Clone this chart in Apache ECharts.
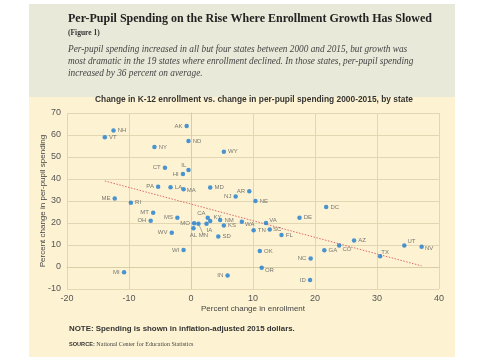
<!DOCTYPE html>
<html><head><meta charset="utf-8">
<script src="https://cdn.jsdelivr.net/npm/echarts@6/dist/echarts.min.js"></script>
<style>html,body{margin:0;padding:0;background:#fff}#c{width:485px;height:360px}</style>
</head><body><div id="c"></div>
<script>
const states = ['NH','VT','AK','ND','NY','CT','IL','HI','PA','LA','MA','ME','WY','MD','AR','NJ','RI','MT','OH','MS','WV','WI','MI','MO','AL','NE','CA','KY','MN','IA','NM','KS','SD','WA','VA','TN','SC','FL','OK','OR','IN','DC','DE','AZ','CO','GA','NC','ID','TX','UT','NV'];
const enrollChange = [-12.5,-13.9,-0.7,-0.4,-5.9,-4.2,-0.4,-1.3,-5.3,-3.3,-1.2,-12.3,5.3,3.1,9.4,7.2,-9.7,-6.1,-6.5,-2.2,-3.1,-1.2,-10.8,0.5,0.4,10.4,2.7,3.1,1.2,2.5,4.7,5.3,4.4,8.2,12.1,10.1,12.7,14.6,11.1,11.4,5.9,21.8,17.5,26.3,23.9,21.5,19.3,19.2,30.5,34.4,37.2];
const spendChange = [62.0,59.0,64.1,57.3,54.5,45.1,44.1,42.3,36.5,36.2,35.3,31.1,52.4,36.1,34.4,32.0,29.2,24.7,21.0,22.4,15.6,7.7,-2.4,19.9,17.6,30.0,22.4,20.9,19.7,19.7,21.4,18.9,13.9,20.6,20.0,16.7,17.1,14.5,7.3,-0.3,-3.9,27.3,22.4,12.0,9.8,7.6,3.9,-5.9,4.9,9.8,9.2];
const labelPos = {AK:'left',CT:'left',HI:'left',PA:'left',ME:'left',MT:'left',OH:'left',MS:'left',WV:'left',WI:'left',MI:'left',MO:'left',AR:'left',NJ:'left',IN:'left',NC:'left',ID:'left',AL:'bottom'};
const trendX = [-13.9, 37.2];
const trendY = [39.1, 0.5];
const xTicks = [-20,-10,0,10,20,30,40];
const yTicks = [-10,0,10,20,30,40,50,60,70];

const labelOffsets = {
  IL:{position:'left',offset:[2,-5]},
  CA:{position:'left',offset:[2,-4]},
  KY:{position:'right',offset:[-1,-4]},
  IA:{position:'bottom',offset:[3,-1]},
  MN:{position:'bottom',offset:[5,4]},
  WA:{position:'right',offset:[-1,3]},
  VA:{position:'right',offset:[-1,-3]},
  CO:{position:'right',offset:[-1,4]},
  TX:{position:'right',offset:[-3,-4]},
  UT:{position:'right',offset:[-1,-4]},
  NV:{position:'right',offset:[-1,2]},
  OR:{position:'right',offset:[-1,3]},
  MA:{position:'right',offset:[-1,1]},
  SC:{position:'right',offset:[-1,0]}
};
const pts = states.map((s,i)=>{
  const item = {value:[enrollChange[i], spendChange[i], s]};
  if (labelOffsets[s]) item.label = Object.assign({}, labelOffsets[s]);
  else if (labelPos[s]) item.label = {position: labelPos[s]};
  if (s==='MN') item.labelLine = {show:true, lineStyle:{color:'#777',width:0.6}};
  return item;
});

const sans = 'Liberation Sans, Arial, sans-serif';
const serif = 'Liberation Serif, Times New Roman, serif';
const chart = echarts.init(document.getElementById('c'), null, {renderer:'canvas'});
chart.setOption({
  animation:false,
  backgroundColor:'#ffffff',
  graphic:[
    {type:'rect', z:-10, shape:{x:29,y:4,width:426,height:93}, style:{fill:'#e8e9d8'}},
    {type:'rect', z:-10, shape:{x:29,y:97,width:426,height:260}, style:{fill:'#fdf3d3'}},
    {type:'text', left:68, top:13, style:{text:'Per-Pupil Spending on the Rise Where Enrollment Growth Has Slowed', font:'bold 12px '+serif, fill:'#222'}},
    {type:'text', left:68, top:29, style:{text:'(Figure 1)', font:'bold 7.5px '+serif, fill:'#333'}},
    {type:'text', left:68, top:44, style:{text:'Per-pupil spending increased in all but four states between 2000 and 2015, but growth was\nmost dramatic in the 19 states where enrollment declined. In those states, per-pupil spending\nincreased by 36 percent on average.', font:'italic 9.3px '+serif, fill:'#444', lineHeight:11.7}},
    {type:'text', left:95, top:96, style:{text:'Change in K-12 enrollment vs. change in per-pupil spending 2000-2015, by state', font:'bold 8.4px '+sans, fill:'#333'}},
    {type:'text', left:69, top:325, style:{text:'NOTE: Spending is shown in inflation-adjusted 2015 dollars.', font:'bold 7.9px '+sans, fill:'#333'}},
    {type:'text', left:69, top:341, style:{rich:{a:{font:'bold 5.6px '+sans, fill:'#333'},b:{font:'6.1px '+serif, fill:'#444'}}, text:'{a|SOURCE: }{b|National Center for Education Statistics}'}}
  ],
  grid:{left:67, right:46, top:113, bottom:71},
  xAxis:{type:'value', min:-20, max:40, interval:10,
    name:'Percent change in enrollment', nameLocation:'middle', nameGap:16, nameMoveOverlap:false,
    nameTextStyle:{fontFamily:sans, fontSize:8, color:'#444'},
    axisLine:{show:true, lineStyle:{color:'#d8cda5'}}, axisTick:{show:false},
    axisLabel:{fontFamily:sans, fontSize:9, color:'#555', margin:5, formatter:v=>xTicks.includes(v)?String(v):''},
    splitLine:{lineStyle:{color:'#e2d7b2'}}},
  yAxis:{type:'value', min:-10, max:70, interval:10,
    name:'Percent change in per-pupil spending', nameLocation:'middle', nameGap:20, nameRotate:90, nameMoveOverlap:false,
    nameTextStyle:{fontFamily:sans, fontSize:8, color:'#444'},
    axisLine:{show:true, lineStyle:{color:'#d8cda5'}}, axisTick:{show:false},
    axisLabel:{fontFamily:sans, fontSize:9, color:'#555', margin:6, formatter:v=>yTicks.includes(v)?String(v):''},
    splitLine:{lineStyle:{color:'#e2d7b2'}}},
  series:[
    {type:'line', data:trendX.map((x,i)=>[x,trendY[i]]), symbol:'none', silent:true,
      lineStyle:{color:'#e06a6a', width:1, type:[1.5,1.5]}, z:1},
    {type:'scatter', data:pts, symbolSize:4.5, itemStyle:{color:'#1b7bd1'}, z:3,
      label:{show:true, position:'right', distance:2, formatter:p=>p.value[2], fontFamily:sans, fontSize:6, color:'#555'}}
  ]
});
</script></body></html>
